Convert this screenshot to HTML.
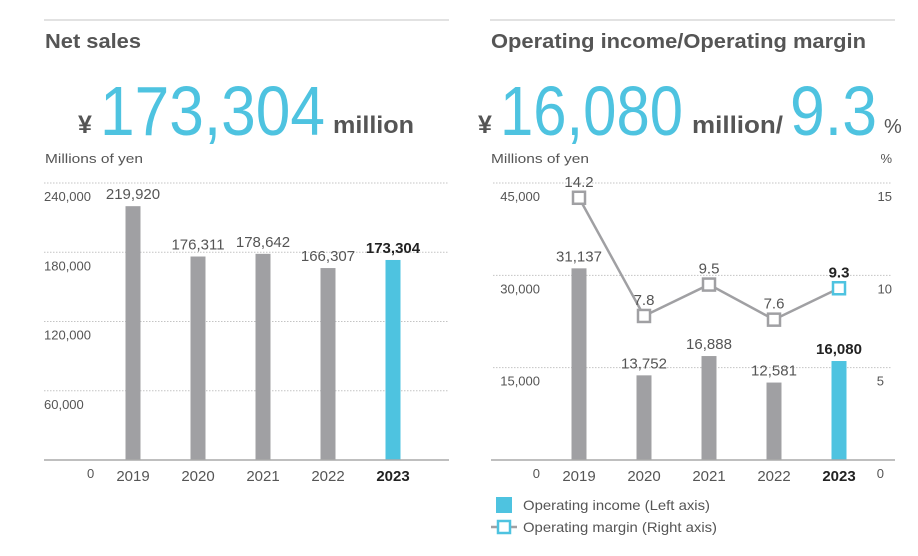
<!DOCTYPE html>
<html><head><meta charset="utf-8"><style>
html,body{margin:0;padding:0;background:#fff;}
svg{display:block;font-family:"Liberation Sans",sans-serif;}
</style></head><body>
<svg id="c" width="918" height="556" viewBox="0 0 918 556" xmlns="http://www.w3.org/2000/svg">
<g>
<line x1="44" y1="20" x2="449" y2="20" stroke="#d8d8d8" stroke-width="1.5"/>
<text x="45" y="48" font-size="20" font-weight="bold" fill="#555" textLength="96" lengthAdjust="spacingAndGlyphs">Net sales</text>
<text x="78" y="133" font-size="25" font-weight="bold" fill="#555">¥</text>
<text x="100" y="135" font-size="70" fill="#4ec3e0" textLength="225" lengthAdjust="spacingAndGlyphs">173,304</text>
<text x="333" y="133" font-size="24" font-weight="bold" fill="#555" textLength="81" lengthAdjust="spacingAndGlyphs">million</text>
<text x="45" y="163" font-size="13" fill="#555" textLength="98" lengthAdjust="spacingAndGlyphs">Millions of yen</text>
</g>
<g>
<line x1="490" y1="20" x2="895" y2="20" stroke="#d8d8d8" stroke-width="1.5"/>
<text x="491" y="48" font-size="20" font-weight="bold" fill="#555" textLength="375" lengthAdjust="spacingAndGlyphs">Operating income/Operating margin</text>
<text x="478" y="133" font-size="25" font-weight="bold" fill="#555">¥</text>
<text x="500" y="135" font-size="70" fill="#4ec3e0" textLength="183" lengthAdjust="spacingAndGlyphs">16,080</text>
<text x="692" y="133" font-size="24" font-weight="bold" fill="#555" textLength="91" lengthAdjust="spacingAndGlyphs">million/</text>
<text x="790" y="135" font-size="70" fill="#4ec3e0" textLength="87" lengthAdjust="spacingAndGlyphs">9.3</text>
<text x="884" y="133" font-size="20" fill="#555">%</text>
<text x="491" y="163" font-size="13" fill="#555" textLength="98" lengthAdjust="spacingAndGlyphs">Millions of yen</text>
<text x="892" y="163" font-size="13" fill="#555" text-anchor="end">%</text>
</g>
<g id="left"></g>
<g id="right"></g>
<g>
<g>
<rect x="496" y="497" width="16" height="16" fill="#4ec3e0"/>
<text x="523" y="510" font-size="14" fill="#555" textLength="187" lengthAdjust="spacingAndGlyphs">Operating income (Left axis)</text>
</g>
<g>
<line x1="491" y1="527" x2="517" y2="527" stroke="#a0a0a3" stroke-width="2.5"/>
<rect x="498" y="521" width="12" height="12" fill="#fff" stroke="#4ec3e0" stroke-width="2.5"/>
<text x="523" y="532" font-size="14" fill="#555" textLength="194" lengthAdjust="spacingAndGlyphs">Operating margin (Right axis)</text>
</g>
</g>
</svg>
<script>
const years = ["2019","2020","2021","2022","2023"];
const netSales = [219920,176311,178642,166307,173304];
const netSalesTicks = [0,60000,120000,180000,240000];
const netSalesTickLabels = ["0","60,000","120,000","180,000","240,000"];
const opIncome = [31137,13752,16888,12581,16080];
const opMargin = [14.2,7.8,9.5,7.6,9.3];
const opTicks = [0,15000,30000,45000];
const opTickLabels = ["0","15,000","30,000","45,000"];
const marginTicks = [0,5,10,15];
const marginTickLabels = ["0","5","10","15"];

const NS="http://www.w3.org/2000/svg";
const GRAY="#a0a0a3", BLUE="#4ec3e0", TXT="#555";
function mk(p,tag,attrs,text){const e=document.createElementNS(NS,tag);for(const k in attrs)e.setAttribute(k,attrs[k]);if(text!=null)e.textContent=text;p.appendChild(e);return e;}
function fmt(v){return v.toLocaleString("en-US");}

// Left chart
const L=document.getElementById("left");
const lBase=460, lTop=183, lMax=240000;
const ly=v=>lBase-(v/lMax)*(lBase-lTop);
const lx=i=>133+i*65;
netSalesTicks.forEach((t,i)=>{
  if(t>0){const g=mk(L,"line",{x1:44,x2:449,y1:ly(t),y2:ly(t),stroke:"#c4c4c4","stroke-width":1,"stroke-dasharray":"1.5,1.5"});
  
  }
  const tl=mk(L,"text",{x:t===0?87:44,y:t===0?478:ly(t)+18,"font-size":13,fill:TXT,"text-anchor":"start"},netSalesTickLabels[i]);
  
  
});
netSales.forEach((v,i)=>{
  const last=i===netSales.length-1;
  const b=mk(L,"rect",{x:lx(i)-7.5,y:ly(v),width:15,height:lBase-ly(v),fill:last?BLUE:GRAY});
  
  
  const t=mk(L,"text",{x:lx(i),y:ly(v)-7,"font-size":15,fill:last?"#222":TXT,"font-weight":last?"bold":"normal","text-anchor":"middle"},fmt(v));
  
  
  const yl=mk(L,"text",{x:lx(i),y:481,"font-size":15,fill:last?"#222":TXT,"font-weight":last?"bold":"normal","text-anchor":"middle"},years[i]);
  
  
});
const lb=mk(L,"line",{x1:44,x2:449,y1:lBase,y2:lBase,stroke:"#aaa","stroke-width":1.5});



// Right chart
const R=document.getElementById("right");
const rBase=460, rTop=183, rMax=45000, mMax=15;
const ry=v=>rBase-(v/rMax)*(rBase-rTop);
const my=v=>rBase-(v/mMax)*(rBase-rTop);
const rx=i=>579+i*65;
opTicks.forEach((t,i)=>{
  if(t>0){const g=mk(R,"line",{x1:493,x2:892,y1:ry(t),y2:ry(t),stroke:"#c4c4c4","stroke-width":1,"stroke-dasharray":"1.5,1.5"});
  
  }
  const tl=mk(R,"text",{x:540,y:t===0?478:ry(t)+18,"font-size":13,fill:TXT,"text-anchor":"end"},opTickLabels[i]);
  
  
});
marginTicks.forEach((t,i)=>{
  const tl=mk(R,"text",{x:t===0?884:(t<10?884:892),y:t===0?478:my(t)+18,"font-size":13,fill:TXT,"text-anchor":"end"},marginTickLabels[i]);
  
  
});
opIncome.forEach((v,i)=>{
  const last=i===opIncome.length-1;
  const b=mk(R,"rect",{x:rx(i)-7.5,y:ry(v),width:15,height:rBase-ry(v),fill:last?BLUE:GRAY});
  
  
  const t=mk(R,"text",{x:rx(i),y:ry(v)-7,"font-size":15,fill:last?"#222":TXT,"font-weight":last?"bold":"normal","text-anchor":"middle"},fmt(v));
  
  
  const yl=mk(R,"text",{x:rx(i),y:481,"font-size":15,fill:last?"#222":TXT,"font-weight":last?"bold":"normal","text-anchor":"middle"},years[i]);
  
  
});
const rb=mk(R,"line",{x1:491,x2:895,y1:rBase,y2:rBase,stroke:"#aaa","stroke-width":1.5});


const pts=opMargin.map((v,i)=>rx(i)+","+my(v)).join(" ");
const pl=mk(R,"polyline",{points:pts,fill:"none",stroke:GRAY,"stroke-width":2.5});


opMargin.forEach((v,i)=>{
  const last=i===opMargin.length-1;
  const m=mk(R,"rect",{x:rx(i)-6,y:my(v)-6,width:12,height:12,fill:"#fff",stroke:last?BLUE:GRAY,"stroke-width":2.5});
  
  
  const t=mk(R,"text",{x:rx(i),y:my(v)-11,"font-size":15,fill:last?"#222":TXT,"font-weight":last?"bold":"normal","text-anchor":"middle"},v.toFixed(1));
  
  
});
</script>
</body></html>
